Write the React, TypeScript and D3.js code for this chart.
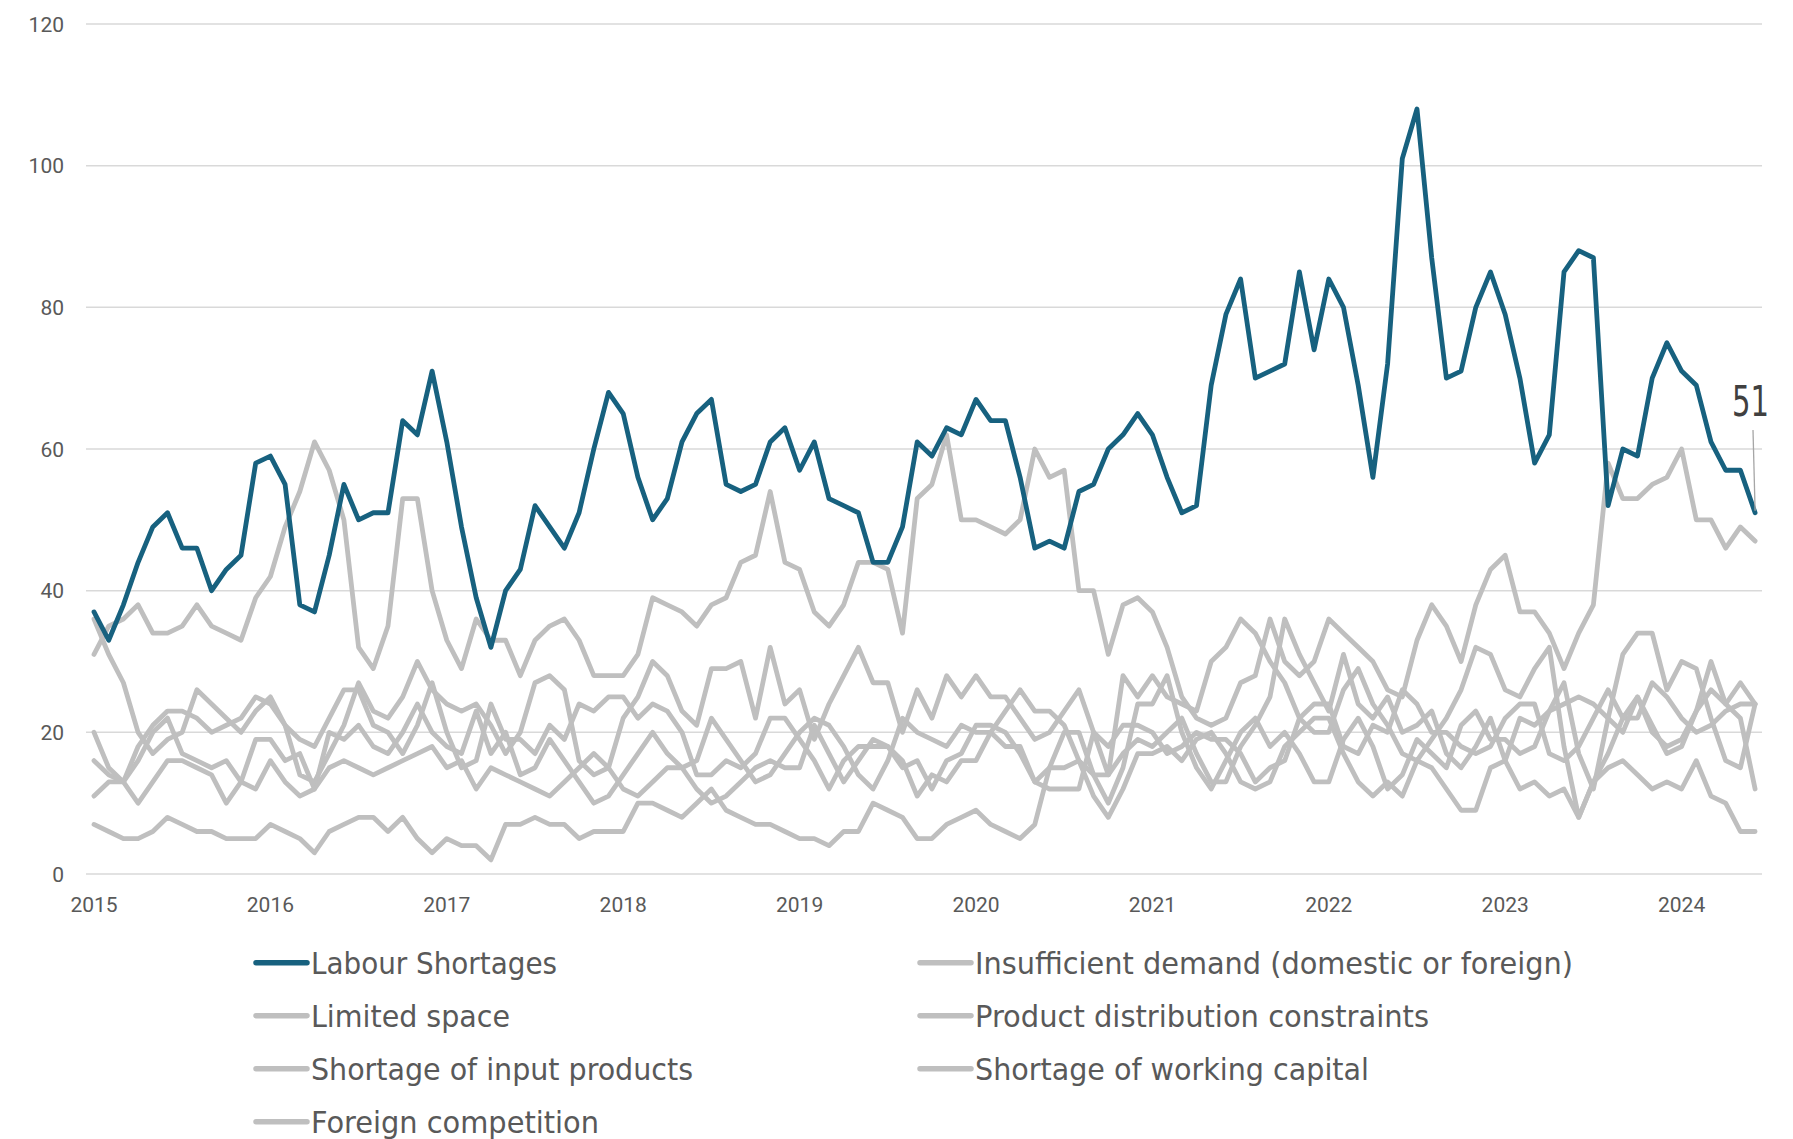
import * as d3 from "d3";

// monthly survey counts, Jan 2015 .. Jun 2024
const years = ["2015", "2016", "2017", "2018", "2019", "2020", "2021", "2022", "2023", "2024"];
const yTicks = [0, 20, 40, 60, 80, 100, 120];

const labourShortages = [
  37, 33, 38, 44, 49, 51, 46, 46, 40, 43, 45, 58,
  59, 55, 38, 37, 45, 55, 50, 51, 51, 64, 62, 71,
  61, 49, 39, 32, 40, 43, 52, 49, 46, 51, 60, 68,
  65, 56, 50, 53, 61, 65, 67, 55, 54, 55, 61, 63,
  57, 61, 53, 52, 51, 44, 44, 49, 61, 59, 63, 62,
  67, 64, 64, 56, 46, 47, 46, 54, 55, 60, 62, 65,
  62, 56, 51, 52, 69, 79, 84, 70, 71, 72, 85, 74,
  84, 80, 69, 56, 72, 101, 108, 87, 70, 71, 80, 85,
  79, 70, 58, 62, 85, 88, 87, 52, 60, 59, 70, 75,
  71, 69, 61, 57, 57, 51,
];
const insufficientDemand = [
  31, 35, 36, 38, 34, 34, 35, 38, 35, 34, 33, 39,
  42, 49, 54, 61, 57, 50, 32, 29, 35, 53, 53, 40,
  33, 29, 36, 33, 33, 28, 33, 35, 36, 33, 28, 28,
  28, 31, 39, 38, 37, 35, 38, 39, 44, 45, 54, 44,
  43, 37, 35, 38, 44, 44, 43, 34, 53, 55, 62, 50,
  50, 49, 48, 50, 60, 56, 57, 40, 40, 31, 38, 39,
  37, 32, 25, 22, 21, 22, 27, 28, 36, 30, 28, 30,
  36, 34, 32, 30, 26, 25, 33, 38, 35, 30, 38, 43,
  45, 37, 37, 34, 29, 34, 38, 58, 53, 53, 55, 56,
  60, 50, 50, 46, 49, 47,
];
const limitedSpace = [
  36, 31, 27, 20, 17, 19, 20, 26, 24, 22, 20, 23,
  25, 21, 14, 13, 17, 21, 27, 23, 22, 25, 30, 26,
  24, 23, 24, 21, 17, 20, 27, 28, 26, 16, 14, 15,
  22, 25, 30, 28, 23, 21, 29, 29, 30, 22, 32, 24,
  26, 19, 24, 28, 32, 27, 27, 20, 26, 22, 28, 25,
  28, 25, 25, 22, 19, 20, 23, 26, 20, 14, 28, 25,
  28, 25, 24, 23, 30, 32, 36, 34, 30, 27, 22, 20,
  20, 26, 29, 24, 21, 17, 16, 19, 22, 26, 32, 31,
  26, 25, 29, 32, 18, 8, 13, 17, 22, 22, 27, 25,
  22, 20, 21, 23, 24, 24,
];
const productDistribution = [
  16, 14, 13, 16, 20, 22, 17, 16, 15, 16, 13, 19,
  19, 16, 17, 12, 20, 19, 21, 18, 17, 20, 24, 20,
  18, 17, 23, 17, 20, 14, 15, 19, 16, 13, 10, 11,
  14, 17, 20, 17, 15, 16, 22, 19, 16, 13, 14, 17,
  20, 22, 21, 18, 14, 12, 16, 22, 20, 19, 18, 21,
  20, 20, 18, 18, 13, 15, 20, 20, 14, 10, 15, 24,
  24, 28, 20, 15, 12, 16, 20, 22, 18, 20, 17, 13,
  13, 19, 22, 18, 12, 14, 19, 17, 15, 21, 23, 19,
  19, 17, 18, 23, 24, 25, 24, 22, 20, 25, 21, 17,
  18, 23, 26, 24, 27, 24,
];
const inputProducts = [
  20, 15, 13, 18, 21, 23, 23, 22, 20, 21, 22, 25,
  24, 21, 19, 18, 22, 26, 26, 21, 20, 17, 21, 27,
  20, 15, 16, 24, 19, 19, 17, 21, 19, 24, 23, 25,
  25, 22, 24, 23, 20, 14, 14, 16, 15, 17, 22, 22,
  19, 16, 12, 16, 18, 18, 18, 16, 11, 14, 13, 16,
  16, 20, 23, 26, 23, 23, 21, 16, 14, 14, 17, 19,
  18, 20, 22, 17, 13, 13, 18, 21, 25, 36, 31, 27,
  23, 31, 24, 22, 25, 20, 21, 23, 17, 15, 18, 22,
  16, 22, 21, 23, 27, 17, 12, 22, 31, 34, 34, 26,
  30, 29, 22, 16, 15, 24,
];
const workingCapital = [
  7, 6, 5, 5, 6, 8, 7, 6, 6, 5, 5, 5,
  7, 6, 5, 3, 6, 7, 8, 8, 6, 8, 5, 3,
  5, 4, 4, 2, 7, 7, 8, 7, 7, 5, 6, 6,
  6, 10, 10, 9, 8, 10, 12, 9, 8, 7, 7, 6,
  5, 5, 4, 6, 6, 10, 9, 8, 5, 5, 7, 8,
  9, 7, 6, 5, 7, 15, 15, 16, 11, 8, 12, 17,
  17, 18, 16, 19, 20, 17, 13, 12, 13, 18, 20, 22,
  22, 17, 13, 11, 13, 11, 16, 15, 12, 9, 9, 15,
  16, 12, 13, 11, 12, 8, 13, 15, 16, 14, 12, 13,
  12, 16, 11, 10, 6, 6,
];
const foreignCompetition = [
  11, 13, 13, 10, 13, 16, 16, 15, 14, 10, 13, 12,
  16, 13, 11, 12, 15, 16, 15, 14, 15, 16, 17, 18,
  15, 16, 12, 15, 14, 13, 12, 11, 13, 15, 17, 15,
  12, 11, 13, 15, 15, 12, 10, 11, 13, 15, 16, 15,
  15, 21, 17, 13, 16, 19, 18, 15, 16, 12, 16, 17,
  21, 21, 20, 17, 13, 12, 12, 12, 20, 18, 21, 21,
  20, 17, 18, 20, 19, 19, 17, 13, 15, 16, 22, 24,
  24, 18, 17, 21, 20, 26, 24, 20, 20, 18, 17, 18,
  22, 24, 24, 17, 16, 18, 22, 26, 22, 25, 20, 18,
  19, 23, 30, 24, 22, 12,
];

const BLUE = "#17617f";
const GREY = "#bfbfbf";

const series = [
  { name: "Labour Shortages", values: labourShortages, color: BLUE },
  { name: "Insufficient demand (domestic or foreign)", values: insufficientDemand, color: GREY },
  { name: "Limited space", values: limitedSpace, color: GREY },
  { name: "Product distribution constraints", values: productDistribution, color: GREY },
  { name: "Shortage of input products", values: inputProducts, color: GREY },
  { name: "Shortage of working capital", values: workingCapital, color: GREY },
  { name: "Foreign competition", values: foreignCompetition, color: GREY },
];

const legendWidths = [246, 598, 199, 454, 382, 394, 288];

export default function App() {
  const width = 1793;
  const height = 1139;
  const gridLeft = 86;
  const gridRight = 1762;

  const x = d3.scaleLinear([0, 113], [94, 94 + 113 * 14.7]);
  const y = d3.scaleLinear([0, 120], [874, 24]);
  const line = d3.line<number>((d, i) => x(i), (d) => y(d));

  const greys = series.filter((s) => s.color === GREY);
  const last = labourShortages.length - 1;

  return (
    <svg
      width={width}
      height={height}
      style={{ position: "absolute", left: 0, top: 0, background: "#fff" }}
    >
      <g>
        {yTicks.map((t) => (
          <g key={t}>
            <line x1={gridLeft} x2={gridRight} y1={y(t)} y2={y(t)} stroke="#d9d9d9" strokeWidth={1.5} />
            <text x={64} y={y(t)} dy="0.36em" textAnchor="end" fontFamily="Roboto, sans-serif" fontSize={21} fill="#595959">
              {t}
            </text>
          </g>
        ))}
      </g>
      <g>
        {years.map((yr, i) => (
          <text key={yr} x={x(i * 12)} y={912} textAnchor="middle" fontFamily="Roboto, sans-serif" fontSize={21} fill="#595959">
            {yr}
          </text>
        ))}
      </g>
      <g fill="none" strokeWidth={4.8} strokeLinejoin="round" strokeLinecap="round">
        {greys.map((s) => (
          <path key={s.name} d={line(s.values) ?? ""} stroke={s.color} />
        ))}
        <path d={line(labourShortages) ?? ""} stroke={BLUE} />
      </g>
      <line x1={1753} y1={430} x2={x(last)} y2={y(labourShortages[last]) - 2} stroke="#a6a6a6" strokeWidth={1.3} />
      <text x={1732} y={416} fontFamily="'Liberation Sans Narrow', 'DejaVu Sans Condensed', sans-serif" fontSize={42} fill="#404040" textLength={37} lengthAdjust="spacingAndGlyphs">
        {labourShortages[last]}
      </text>
      <g fontFamily="'Liberation Sans Narrow', 'DejaVu Sans Condensed', sans-serif" fontSize={31} fill="#595959">
        {series.map((s, i) => {
          const col = i === 0 ? 0 : i % 2 === 1 ? 1 : 0;
          const row = i === 0 ? 0 : col === 1 ? (i - 1) / 2 : i / 2;
          const lx = col === 0 ? 254 : 918;
          const ly = 962.7 + row * 53;
          return (
            <g key={s.name}>
              <line x1={lx + 2} x2={lx + 53} y1={ly} y2={ly} stroke={s.color} strokeWidth={5.5} strokeLinecap="round" />
              <text x={lx + 57} y={ly + 10.8} textLength={legendWidths[i]} lengthAdjust="spacingAndGlyphs">
                {s.name}
              </text>
            </g>
          );
        })}
      </g>
    </svg>
  );
}
